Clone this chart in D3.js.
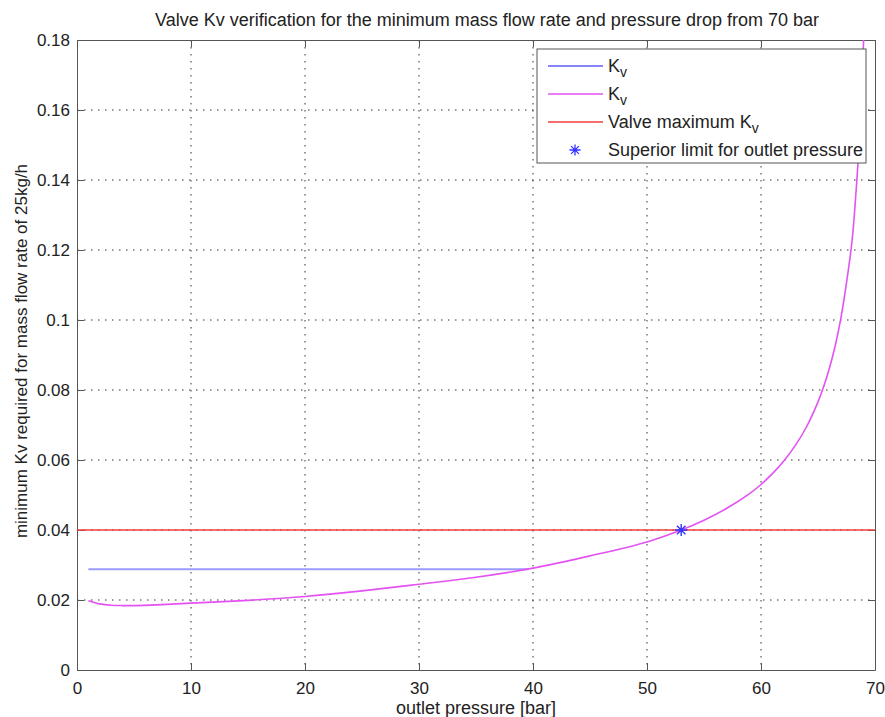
<!DOCTYPE html>
<html>
<head>
<meta charset="utf-8">
<script src="https://cdn.jsdelivr.net/npm/d3@7"></script>
<style>
  body { margin: 0; background: #fff; }
  text { font-family: "Liberation Sans", Arial, sans-serif; fill: #222; }
</style>
</head>
<body>
<div id="chart-area"></div>
<script>
// data
const outletP = [1, 2, 3, 4, 5, 7, 10, 15, 20, 25, 30, 35, 40, 45, 50, 53, 55, 57, 59, 60, 61, 62, 63, 64, 65, 65.5, 66, 66.5, 67, 67.5, 68, 68.3, 68.5, 68.7, 68.85, 69, 69.15]
const kvRequired = [0.0198, 0.0189, 0.0185, 0.0184, 0.0184, 0.0186, 0.0191, 0.0199, 0.0210, 0.0226, 0.0245, 0.0265, 0.0291, 0.0326, 0.0366, 0.0400, 0.0428, 0.0462, 0.0504, 0.0530, 0.0561, 0.0597, 0.0641, 0.0695, 0.0766, 0.0810, 0.0862, 0.0925, 0.1004, 0.1106, 0.1230, 0.1350, 0.1445, 0.1562, 0.1668, 0.1797, 0.1959]
const kvFlatP = [1, 39.6]
const kvFlat = [0.0288, 0.0288]
const valveMaxKv = 0.04
const limitP = 53
const limitKv = 0.04
const xTicks = [0, 10, 20, 30, 40, 50, 60, 70]
const yTicks = [0, 0.02, 0.04, 0.06, 0.08, 0.1, 0.12, 0.14, 0.16, 0.18]

const MARGIN = { LEFT: 77, RIGHT: 10, TOP: 40, BOTTOM: 47 }
const WIDTH = 885 - MARGIN.LEFT - MARGIN.RIGHT
const HEIGHT = 717 - MARGIN.TOP - MARGIN.BOTTOM

const svg = d3.select("#chart-area")
  .append("svg")
  .attr("width", 885)
  .attr("height", 717)

const g = svg.append("g")
  .attr("transform", `translate(${MARGIN.LEFT}, ${MARGIN.TOP})`)

const x = d3.scaleLinear().domain([0, 70]).range([0, WIDTH])
const y = d3.scaleLinear().domain([0, 0.18]).range([HEIGHT, 0])

svg.append("defs").append("clipPath").attr("id", "plot-clip")
  .append("rect").attr("width", WIDTH).attr("height", HEIGHT)

// grid (dotted)
const grid = g.append("g").attr("class", "grid")
grid.selectAll("line.vx").data(xTicks.slice(1, -1)).enter().append("line")
  .attr("x1", d => x(d)).attr("x2", d => x(d))
  .attr("y1", 0).attr("y2", HEIGHT)
  .attr("stroke", "#333").attr("stroke-width", 1).attr("stroke-dasharray", "1.5,5.5")
grid.selectAll("line.hy").data(yTicks.slice(1, -1)).enter().append("line")
  .attr("x1", 0).attr("x2", WIDTH)
  .attr("y1", d => y(d)).attr("y2", d => y(d))
  .attr("stroke", "#333").attr("stroke-width", 1).attr("stroke-dasharray", "1.5,5.5")

// axes: ticks pointing inwards on all four sides, MATLAB style
const tickFmt = d => d3.format("~g")(d)
const xAxisGroup = g.append("g").attr("transform", `translate(0,${HEIGHT})`)
  .call(d3.axisBottom(x).tickValues(xTicks).tickSizeInner(-7).tickSizeOuter(0).tickPadding(12).tickFormat(tickFmt))
const xTopGroup = g.append("g")
  .call(d3.axisTop(x).tickValues(xTicks).tickSizeInner(-7).tickSizeOuter(0).tickFormat(""))
const yAxisGroup = g.append("g")
  .call(d3.axisLeft(y).tickValues(yTicks).tickSizeInner(-7).tickSizeOuter(0).tickPadding(7).tickFormat(tickFmt))
const yRightGroup = g.append("g").attr("transform", `translate(${WIDTH},0)`)
  .call(d3.axisRight(y).tickValues(yTicks).tickSizeInner(-7).tickSizeOuter(0).tickFormat(""))

g.selectAll(".domain, .tick line").attr("stroke", "#555")
g.selectAll(".tick text").attr("font-size", "17px").attr("fill", "#222")
  .style("font-family", "'Liberation Sans', Arial, sans-serif")

// series
const plot = g.append("g").attr("clip-path", "url(#plot-clip)")

const line = d3.line().x(d => x(d[0])).y(d => y(d[1])).curve(d3.curveCatmullRom)

plot.append("path")
  .datum(d3.zip(kvFlatP, kvFlat))
  .attr("d", line)
  .attr("fill", "none").attr("stroke", "#9a9aff").attr("stroke-width", 2)

plot.append("path")
  .datum(x.domain().map(p => [p, valveMaxKv]))
  .attr("d", line)
  .attr("fill", "none").attr("stroke", "#f23c3c").attr("stroke-width", 1.5)

plot.append("path")
  .datum(d3.zip(outletP, kvRequired))
  .attr("d", line)
  .attr("fill", "none").attr("stroke", "#e352f2").attr("stroke-width", 1.6)

const asterisk = r => {
  const a = r * Math.SQRT1_2
  return `M${-r},0L${r},0M0,${-r}L0,${r}M${-a},${-a}L${a},${a}M${-a},${a}L${a},${-a}`
}
plot.append("path")
  .attr("transform", `translate(${x(limitP)},${y(limitKv)})`)
  .attr("d", asterisk(6))
  .attr("fill", "none").attr("stroke", "#3333ff").attr("stroke-width", 1.4)

// title and axis labels
svg.append("text")
  .attr("x", 487).attr("y", 26)
  .attr("text-anchor", "middle").attr("font-size", "18px")
  .text("Valve Kv verification for the minimum mass flow rate and pressure drop from 70 bar")

svg.append("text")
  .attr("x", 476).attr("y", 714)
  .attr("text-anchor", "middle").attr("font-size", "18px")
  .text("outlet pressure [bar]")

svg.append("text")
  .attr("transform", "translate(27,351) rotate(-90)")
  .attr("text-anchor", "middle").attr("font-size", "17px")
  .text("minimum Kv required for mass flow rate of 25kg/h")

// legend
const legendItems = [
  { label: "K", sub: "v", color: "#5c5cf6", kind: "line" },
  { label: "K", sub: "v", color: "#e352f2", kind: "line" },
  { label: "Valve maximum K", sub: "v", color: "#f23c3c", kind: "line" },
  { label: "Superior limit for outlet pressure", sub: "", color: "#3333ff", kind: "star" }
]
const legend = svg.append("g").attr("transform", "translate(537,49)")
legend.append("rect")
  .attr("width", 329).attr("height", 114)
  .attr("fill", "#fff").attr("stroke", "#555").attr("stroke-width", 1)

const rows = legend.selectAll("g.row").data(legendItems).enter().append("g")
  .attr("transform", (d, i) => `translate(0,${17 + i * 28})`)
rows.filter(d => d.kind === "line").append("line")
  .attr("x1", 11).attr("x2", 66).attr("y1", 0).attr("y2", 0)
  .attr("stroke", d => d.color).attr("stroke-width", 1.5)
rows.filter(d => d.kind === "star").append("path")
  .attr("transform", "translate(38,0)")
  .attr("d", asterisk(5.5))
  .attr("fill", "none").attr("stroke", d => d.color).attr("stroke-width", 1.3)
const labels = rows.append("text")
  .attr("x", 71).attr("y", 6)
  .attr("font-size", "18px")
labels.append("tspan").text(d => d.label)
labels.append("tspan").attr("dy", 5).attr("font-size", "14px").text(d => d.sub)
</script>
</body>
</html>
